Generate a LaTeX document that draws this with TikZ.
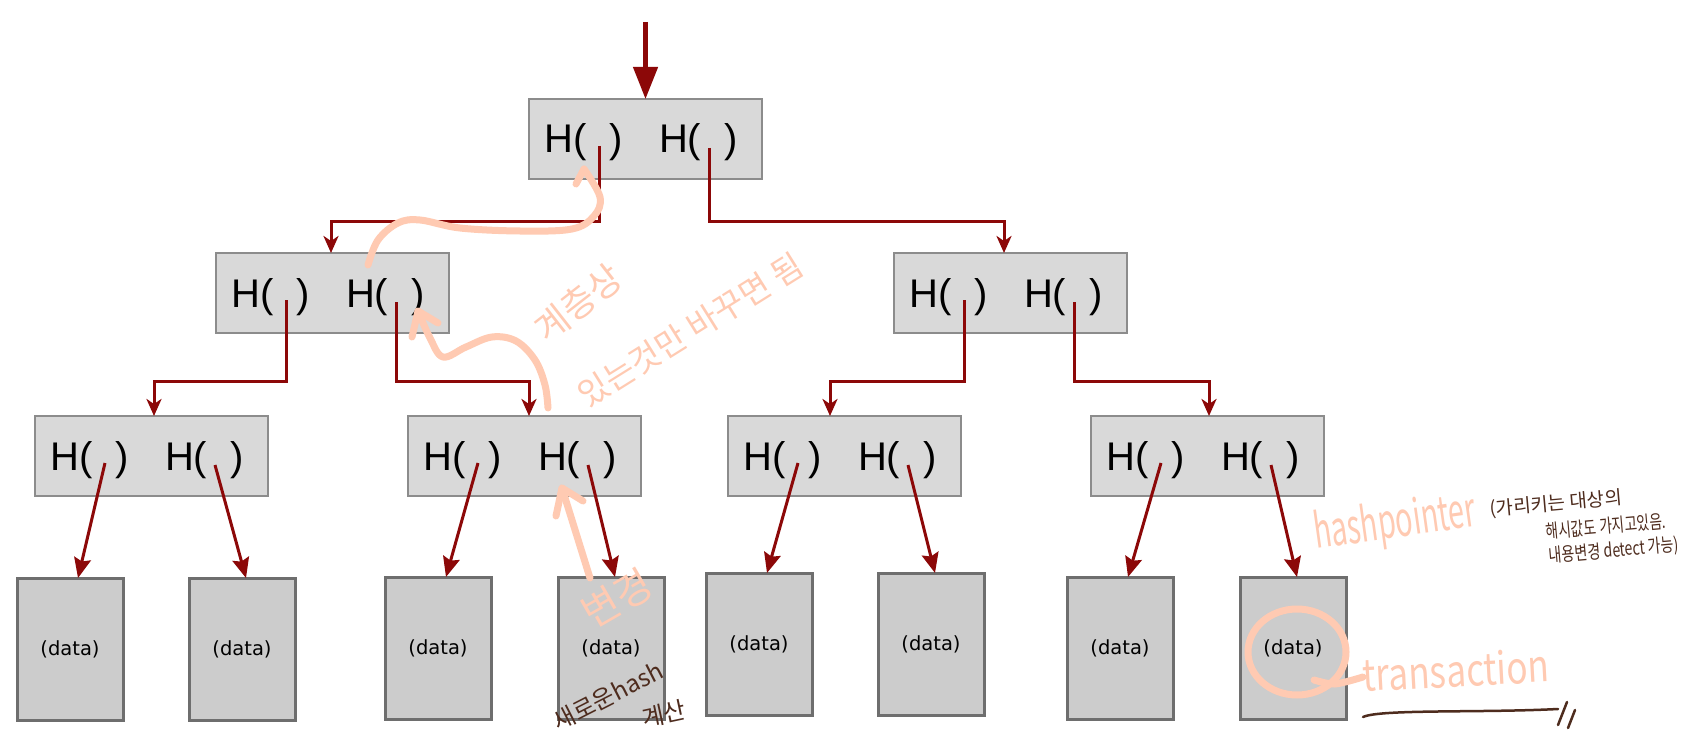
\documentclass[tikz,border=0pt]{standalone}
\usepackage{fontspec}
\usepackage{graphicx}
\setmainfont{Liberation Sans}
\newfontfamily\datafont{DejaVu Sans}
\newfontfamily\kr{Noto Sans CJK KR}
\usetikzlibrary{arrows.meta,calc}

\definecolor{ptr}{RGB}{140,8,8}
\definecolor{hfill}{RGB}{217,217,217}
\definecolor{hdraw}{RGB}{140,140,140}
\definecolor{dfill}{RGB}{204,204,204}
\definecolor{ddraw}{RGB}{110,110,110}
\definecolor{peach}{RGB}{255,202,178}
\definecolor{inkbrown}{RGB}{78,44,30}

\newcommand\hpair{H(\hspace{23.3pt})\hspace{36pt}H(\hspace{23.3pt})}

\begin{document}
\begin{tikzpicture}[x=1pt,y=-1pt,
  hbox/.style={draw=hdraw,fill=hfill,line width=2pt,minimum width=233pt,minimum height=80pt,inner sep=0pt,outer sep=0pt,anchor=north west},
  dbox/.style={draw=ddraw,fill=dfill,line width=3pt,minimum width=106pt,minimum height=142pt,inner sep=0pt,outer sep=0pt,anchor=north west,font=\datafont\fontsize{19.5}{22}\selectfont},
  htext/.style={anchor=base west,inner sep=0pt,font=\fontsize{40}{48}\selectfont},
  elbow/.style={draw=ptr,line width=3pt,-{Stealth[length=17pt,width=15pt,inset=5pt]}},
  diag/.style={draw=ptr,line width=3pt,-{Stealth[length=20pt,width=17pt,inset=3pt]}},
  toparrow/.style={draw=ptr,line width=4.5pt,-{Triangle[length=32pt,width=24pt]}},
  annot/.style={draw=peach,line width=7pt,line cap=round,line join=round},
  peachtext/.style={text=peach,inner sep=0pt,font=\kr},
  inktext/.style={text=inkbrown,inner sep=0pt,font=\kr},
  inkline/.style={draw=inkbrown,line width=2.5pt,line cap=round}
]
\fill[white] (0,0) rectangle (1697,738);
\useasboundingbox (0,0) rectangle (1697,738);

% hash boxes
\node[hbox] (root) at (529,99) {};
\node[hbox] (L2a) at (216,253) {};
\node[hbox] (L2b) at (894,253) {};
\node[hbox] (L3a) at (35,416) {};
\node[hbox] (L3b) at (408,416) {};
\node[hbox] (L3c) at (728,416) {};
\node[hbox] (L3d) at (1091,416) {};

\foreach \b in {root,L2a,L2b,L3a,L3b,L3c,L3d}{
  \node[htext] (\b-t) at ($(\b.north west)+(15,54)$) {\hpair};
  \coordinate (\b-l) at ($(\b.north west)+(70,47)$);
  \coordinate (\b-r) at ($(\b.north west)+(180,49)$);
}

% data boxes
\node[dbox] (d1) at (17,578) {(data)};
\node[dbox] (d2) at (189,578) {(data)};
\node[dbox] (d3) at (385,577) {(data)};
\node[dbox] (d4) at (558,577) {(data)};
\node[dbox] (d5) at (706,573) {(data)};
\node[dbox] (d6) at (878,573) {(data)};
\node[dbox] (d7) at (1067,577) {(data)};
\node[dbox] (d8) at (1240,577) {(data)};

% top arrow
\coordinate (in) at (645.5,22);
\draw[toparrow] (in) -- (root.north);

% elbow pointers
\draw[elbow] (root-l) |- ($(L2a.north west)+(115,-31)$) -- ($(L2a.north west)+(115,0)$);
\draw[elbow] (root-r) |- ($(L2b.north west)+(110,-31)$) -- ($(L2b.north west)+(110,0)$);
\draw[elbow] (L2a-l) |- ($(L3a.north west)+(119,-35)$) -- ($(L3a.north west)+(119,0)$);
\draw[elbow] (L2a-r) |- ($(L3b.north west)+(121,-35)$) -- ($(L3b.north west)+(121,0)$);
\draw[elbow] (L2b-l) |- ($(L3c.north west)+(102,-35)$) -- ($(L3c.north west)+(102,0)$);
\draw[elbow] (L2b-r) |- ($(L3d.north west)+(118,-35)$) -- ($(L3d.north west)+(118,0)$);

% diagonal pointers to data
\foreach \b/\dl/\dr in {L3a/d1/d2,L3b/d3/d4,L3c/d5/d6,L3d/d7/d8}{
  \draw[diag] (\b-l) -- ($(\dl.north)+(8,0)$);
  \draw[diag] (\b-r) -- ($(\dr.north)+(4,0)$);
}

% ---- handwritten annotations (peach) ----
\draw[annot] plot[smooth,tension=0.6] coordinates {(368,265) (378,240) (398,223) (420,220) (460,228) (520,231) (572,229) (594,216) (600,197) (584,169)};
\draw[annot] (584,169) -- (576,184);

\draw[annot] (412,337) -- (418,311) -- (438,323);
\draw[annot] plot[smooth,tension=0.6] coordinates {(418,311) (430,338) (443,357) (466,347) (492,337) (516,341) (535,360) (545,385) (548,408)};

\draw[annot] (590,578) -- (562,488);
\draw[annot] (556,516) -- (562,488) -- (583,501);

\node[peachtext,rotate=38,font=\kr\fontsize{36}{40}\selectfont] (n-layer) at (578,303) {계층상};
\node[peachtext,rotate=32,font=\kr\fontsize{33}{38}\selectfont] (n-only) at (690,330) {있는것만 바꾸면 됨};
\node[peachtext,rotate=30,font=\kr\fontsize{40}{44}\selectfont] (n-change) at (617,598) {변경};

\node[peachtext,rotate=8,font=\kr\fontsize{48}{52}\selectfont] (n-hp) at (1395,524) {\scalebox{0.6}[1]{hashpointer}};

\draw[annot] (1297,652) ellipse [x radius=49pt, y radius=43pt];
\draw[annot] plot[smooth] coordinates {(1314,680) (1335,684) (1363,677)};
\node[peachtext,rotate=3,font=\kr\fontsize{44}{48}\selectfont] (n-tx) at (1456,670) {\scalebox{0.8}[1]{transaction}};

% ---- handwritten annotations (brown) ----
\node[inktext,rotate=27,font=\kr\fontsize{24}{28}\selectfont] (n-new) at (608,696) {새로운hash};
\node[inktext,rotate=12,font=\kr\fontsize{24}{28}\selectfont] (n-calc) at (664,714) {계산};

\node[inktext,rotate=5,font=\kr\fontsize{19}{22}\selectfont] (n-note1) at (1556,504) {(가리키는 대상의};
\node[inktext,rotate=5,font=\kr\fontsize{19}{22}\selectfont] (n-note2) at (1606,526) {\scalebox{0.72}[1]{해시값도 가지고있음.}};
\node[inktext,rotate=5,font=\kr\fontsize{19}{22}\selectfont] (n-note3) at (1614,551) {\scalebox{0.74}[1]{내용변경 detect 가능)}};

\coordinate (u1) at (1363,717);
\coordinate (u2) at (1558,709);
\draw[inkline] (u1) .. controls (1380,709) and (1480,713) .. (u2);
\coordinate (s1a) at (1567,702);
\coordinate (s1b) at (1558,725);
\coordinate (s2a) at (1575,710);
\coordinate (s2b) at (1568,728);
\draw[inkline] (s1a) -- (s1b);
\draw[inkline] (s2a) -- (s2b);
\end{tikzpicture}
\end{document}
